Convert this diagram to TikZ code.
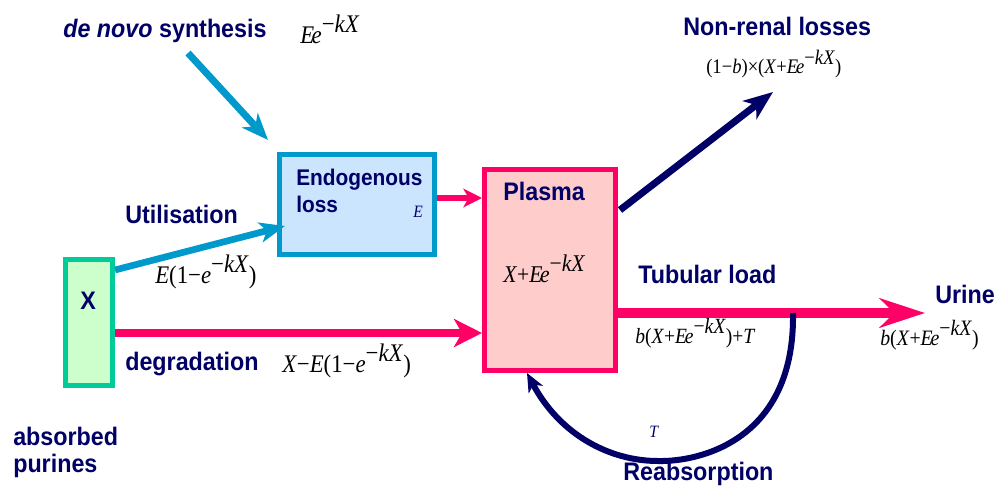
\documentclass[tikz,border=0pt]{standalone}
\usepackage{fontspec}
\usetikzlibrary{arrows.meta}
\newfontfamily\hel[FakeStretch=0.92]{Liberation Sans}
\newfontfamily\ser[FakeStretch=0.9]{Liberation Serif}
\definecolor{navy}{RGB}{0,0,102}
\definecolor{pinkc}{RGB}{255,0,102}
\definecolor{pinkf}{RGB}{255,204,204}
\definecolor{bluec}{RGB}{0,153,204}
\definecolor{bluef}{RGB}{204,229,255}
\definecolor{greenc}{RGB}{0,204,153}
\definecolor{greenf}{RGB}{204,255,204}
\newcommand\sz[1]{\fontsize{#1}{#1}\selectfont}
\newcommand\spx[1]{\raisebox{0.42em}{#1}}
\newcommand\Eek{\textit{E}\kern-0.1em\textit{e}\spx{−\textit{kX}}}
\def\p{0.75pt}
\tikzset{
  lbl/.style={anchor=base west, inner sep=0pt, text=navy, font=\hel\bfseries\sz{19}},
  fml/.style={anchor=base west, inner sep=0pt, text=black, font=\ser},
  boxc/.style={draw, line width=3.75pt, inner sep=0pt},
}
\begin{document}
\begin{tikzpicture}[x=0.75pt,y=-0.75pt]
\useasboundingbox[fill=white] (0,0) rectangle (996,489);
% boxes
\node[boxc, draw=greenc, fill=greenf, minimum width=47*\p, minimum height=126*\p] (xbox) at (89,322.5) {};
\node[boxc, draw=bluec, fill=bluef, minimum width=155*\p, minimum height=100*\p] (endo) at (357,204.5) {};
\node[boxc, draw=pinkc, fill=pinkf, minimum width=131*\p, minimum height=201*\p] (plasma) at (550,270) {};
% coordinates
\coordinate (dn0) at (188,53);
\coordinate (dn1) at (268,140);
\coordinate (u0) at (115,270);
\coordinate (u1) at (285,226);
\coordinate (nr0) at (620,210);
\coordinate (nr1) at (773,92);
\coordinate (ur) at (925,313);
\coordinate (rb0) at (793,313);
\coordinate (rb1) at (527,373);
% arrows
\draw[bluec, line width=5.25pt, -{Stealth[length=20pt,width=16pt,inset=6pt]}] (dn0) -- (dn1);
\draw[bluec, line width=5pt, -{Stealth[length=19pt,width=15pt,inset=5pt]}] (u0) -- (u1);
\draw[pinkc, line width=6.5pt, -{Stealth[length=21pt,width=21pt,inset=6pt]}] (xbox.east |- 0,333) -- (plasma.west |- 0,333);
\draw[pinkc, line width=4.5pt, -{Stealth[length=14pt,width=14pt,inset=4pt]}] (endo.east |- 0,198) -- (plasma.west |- 0,198);
\draw[navy, line width=5.25pt, -{Stealth[length=22pt,width=17pt,inset=6pt]}] (nr0) -- (nr1);
\draw[pinkc, line width=7pt, -{Stealth[length=34pt,width=22pt,inset=11pt]}] (plasma.east |- 0,313) -- (ur);
\draw[navy, line width=4.5pt, -{Stealth[length=14pt,width=12pt,inset=4pt]}] (rb0) .. controls (795,440) and (700,462) .. (658,461) .. controls (610,461) and (560,435) .. (rb1);
% labels
\node[lbl] (tdn) at (63,37) {\itshape de novo\upshape\ synthesis};
\node[fml] (fdn) at (300,43) {\sz{19}\Eek};
\node[lbl] (tnr) at (683,35) {Non-renal losses};
\node[fml] (fnr) at (706,73) {\sz{15.5}(1−\textit{b})×(\textit{X}+\Eek)};
\node[lbl, font=\hel\bfseries\sz{17}] (ten1) at (296,185) {Endogenous};
\node[lbl, font=\hel\bfseries\sz{17}] (ten2) at (296,212) {loss};
\node[fml, text=navy] (fen) at (413,217) {\sz{13}\textit{E}};
\node[lbl] (tut) at (125,223) {Utilisation};
\node[fml] (fut) at (155,283) {\sz{19}\textit{E}(1−\textit{e}\spx{−\textit{kX}})};
\node[lbl] (tx) at (80,309) {X};
\node[lbl] (tdg) at (125,370) {degradation};
\node[fml] (fdg) at (282,372) {\sz{19}\textit{X}−\textit{E}(1−\textit{e}\spx{−\textit{kX}})};
\node[lbl] (tpl) at (503,200) {Plasma};
\node[fml] (fpl) at (503,282) {\sz{18}\textit{X}+\Eek};
\node[lbl] (ttl) at (638,283) {Tubular load};
\node[fml] (ftl) at (635,343) {\sz{16.3}\textit{b}(\textit{X}+\Eek)+\textit{T}};
\node[lbl] (tur) at (935,303) {Urine};
\node[fml] (fur) at (880,345) {\sz{16.5}\textit{b}(\textit{X}+\Eek)};
\node[fml, text=navy] (ft) at (649,437) {\sz{13}\textit{T}};
\node[lbl] (trb) at (623,480) {Reabsorption};
\node[lbl] (tab1) at (13,445) {absorbed};
\node[lbl] (tab2) at (13,472) {purines};
\end{tikzpicture}
\end{document}
